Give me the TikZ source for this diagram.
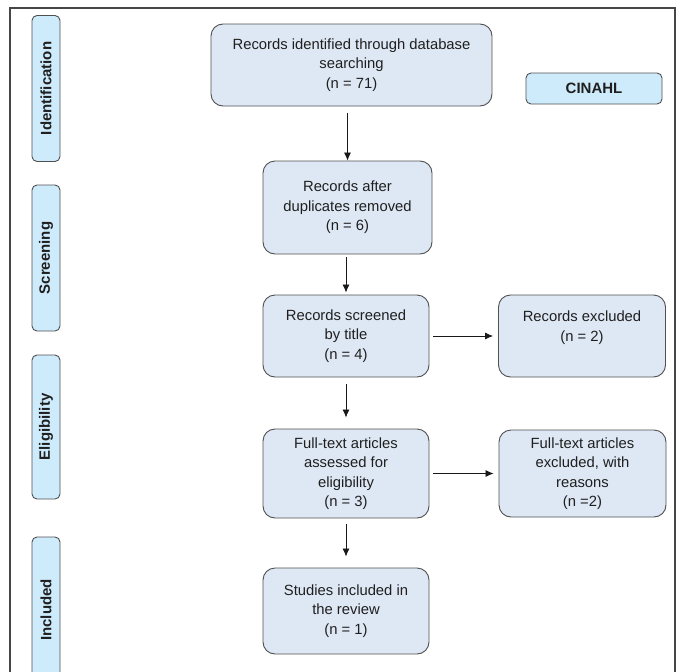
\documentclass[tikz,border=0pt]{standalone}
\usepackage{fontspec}
\setmainfont{Liberation Sans}
\usepackage{xcolor}
\usepackage{tikz}
\usetikzlibrary{arrows.meta,positioning}
\definecolor{boxFill}{RGB}{222,232,244}
\definecolor{stageFill}{RGB}{206,235,252}
\definecolor{edge}{RGB}{80,80,80}
\definecolor{frameGray}{RGB}{70,70,70}

\begin{document}
\begin{tikzpicture}[
    x=1pt, y=-1pt,
    every node/.style={font=\fontsize{14.8}{19.5}\selectfont, text=black!88},
    box/.style={draw=edge, line width=0.9pt, rectangle, rounded corners=12pt,
                fill=boxFill, align=center, inner sep=2pt},
    stage/.style={draw=edge, line width=0.9pt, rectangle, rounded corners=5pt,
                fill=stageFill, align=center, inner sep=0pt, rotate=90,
                minimum height=28pt, font=\fontsize{15}{18}\selectfont\bfseries},
    dbbox/.style={draw=edge, line width=0.9pt, rectangle, rounded corners=5pt,
                fill=stageFill, align=center, inner sep=0pt,
                minimum width=136pt, minimum height=31pt,
                font=\fontsize{15}{18}\selectfont\bfseries},
    arrow/.style={-{Latex[length=8pt,width=7pt]}, line width=0.8pt, draw=black!90},
    frame/.style={draw=frameGray, line width=1.6pt}
  ]
    \clip (0,0) rectangle (683,672);

    % Outer frame (open at the bottom)
    \draw[frame] (10,690) |- (675,8) -- (675,690);

    % Stages
    \node[stage, minimum width=146pt] (sIdent)  at (46, 88.5) {Identification};
    \node[stage, minimum width=146pt] (sScreen) at (46, 258)  {Screening};
    \node[stage, minimum width=144pt] (sElig)   at (46, 427)  {Eligibility};
    \node[stage, minimum width=146pt] (sIncl)   at (46, 610)  {Included};

    % Spine
    \node[box, minimum width=281pt, minimum height=82pt] (ident)  at (351.5, 65)
      {Records identified through database\\searching\\(n = 71)};
    \node[box, minimum width=169pt, minimum height=93pt] (dedup)  at (347.5, 207.5)
      {Records after\\duplicates removed\\(n = 6)};
    \node[box, minimum width=166pt, minimum height=82pt] (screen) at (346, 336)
      {Records screened\\by title\\(n = 4)};
    \node[box, minimum width=166pt, minimum height=89pt] (full)   at (346, 473.5)
      {Full-text articles\\assessed for\\eligibility\\(n = 3)};
    \node[box, minimum width=166pt, minimum height=86pt] (incl)   at (346, 611)
      {Studies included in\\the review\\(n = 1)};

    % Exclusions
    \node[box, minimum width=167pt, minimum height=82pt] (excl)     at (582, 336)
      {Records excluded\\(n = 2)\\\mbox{}};
    \node[box, minimum width=167pt, minimum height=87pt] (fullexcl) at (582.5, 473.5)
      {Full-text articles\\excluded, with\\reasons\\(n =2)};

    % Database tag
    \node[dbbox] (cinahl) at (594, 88.5) {CINAHL};

    % Spine arrows
    \draw[arrow, shorten <=7pt]                 (ident.south -| dedup.north) -- (dedup.north);
    \draw[arrow, shorten <=3pt, shorten >=2pt]  (dedup.south -| screen.north) -- (screen.north);
    \draw[arrow, shorten <=7pt, shorten >=11pt] (screen.south) -- (full.north);
    \draw[arrow, shorten <=6pt, shorten >=11pt] (full.south) -- (incl.north);

    % Exclusion arrows
    \draw[arrow, shorten <=4pt, shorten >=5pt] (screen.east) -- (excl.west);
    \draw[arrow, shorten <=4pt, shorten >=5pt] (full.east) -- (fullexcl.west);
  \end{tikzpicture}
\end{document}
